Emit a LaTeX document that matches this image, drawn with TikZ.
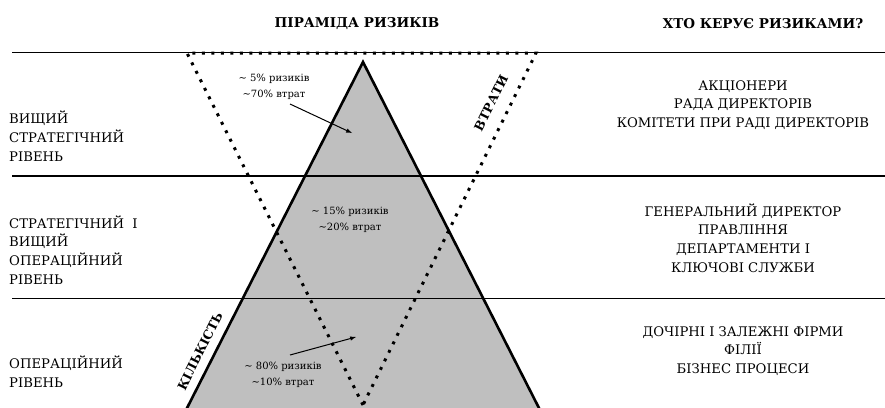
\documentclass[tikz,border=0pt]{standalone}
\usepackage{fontspec}
\setmainfont{DejaVu Serif}
\usepackage{tikz}
\usetikzlibrary{arrows,positioning,calc}

\begin{document}
\begin{tikzpicture}[x=1pt,y=-1pt,
  every node/.style={inner sep=1pt},
  headtext/.style={font=\bfseries\fontsize{13.5}{15}\selectfont},
  lvltext/.style={anchor=west, align=left, font=\fontsize{13.2}{18.8}\selectfont},
  whotext/.style={align=center, font=\fontsize{13.2}{18.8}\selectfont},
  pcttext/.style={align=center, font=\fontsize{10}{16}\selectfont},
  sidetext/.style={font=\bfseries\fontsize{12.5}{14}\selectfont, rotate=63.5},
  bigdots/.style={line width=3pt, dash pattern=on 3pt off 6.5pt}]
\useasboundingbox (0,0) rectangle (885,407);

% Pyramid
\coordinate (apex) at (363,62);
\coordinate (baseL) at (185,412);
\coordinate (baseR) at (541,412);
\draw[line width=2.6pt, fill=black!25, line join=miter] (baseL) -- (apex) -- (baseR);

% Level lines
\draw[line width=0.9pt] (12,52) -- (885,52);
\draw[line width=1.6pt] (12,176) -- (885,176);
\draw[line width=0.9pt] (12,298) -- (885,298);

% Losses triangle (upside down)
\coordinate (lossL) at (187,53);
\coordinate (lossR) at (536,53);
\coordinate (lossB) at (363,405);
\draw[bigdots] (lossB) -- (lossL) -- (lossR) -- (lossB);

% Headings
\node[headtext] (pyrhead) at (357,24) {ПІРАМІДА РИЗИКІВ};
\node[headtext] (whohead) at (763,24) {ХТО КЕРУЄ РИЗИКАМИ?};

% Levels
\node[lvltext] (lvl1) at (8,136) {ВИЩИЙ\\СТРАТЕГІЧНИЙ\\РІВЕНЬ};
\node[lvltext] (lvl2) at (8,250) {СТРАТЕГІЧНИЙ \ І\\ВИЩИЙ\\ОПЕРАЦІЙНИЙ\\РІВЕНЬ};
\node[lvltext] (lvl3) at (8,372) {ОПЕРАЦІЙНИЙ\\РІВЕНЬ};

% Who manages
\node[whotext] (who1) at (743,105) {АКЦІОНЕРИ\\РАДА ДИРЕКТОРІВ\\КОМІТЕТИ ПРИ РАДІ ДИРЕКТОРІВ};
\node[whotext] (who2) at (743,238) {ГЕНЕРАЛЬНИЙ ДИРЕКТОР\\ПРАВЛІННЯ\\ДЕПАРТАМЕНТИ І\\КЛЮЧОВІ СЛУЖБИ};
\node[whotext] (who3) at (743,351) {ДОЧІРНІ І ЗАЛЕЖНІ ФІРМИ\\ФІЛІЇ\\БІЗНЕС ПРОЦЕСИ};

% Shares
\node[pcttext] (pct1) at (274,87) {\textasciitilde\ 5\% ризиків\\\textasciitilde70\% втрат};
\node[pcttext] (pct2) at (350,220) {\textasciitilde\ 15\% ризиків\\\textasciitilde20\% втрат};
\node[pcttext] (pct3) at (283,375) {\textasciitilde\ 80\% ризиків\\\textasciitilde10\% втрат};
\coordinate (tip1) at (352,133);
\coordinate (tip3) at (356,337);
\draw[-latex, line width=1pt] (290,104) -- (tip1);
\draw[-latex, line width=1pt] (290,355) -- (tip3);

% Side labels
\node[sidetext] (losses) at (491,103) {ВТРАТИ};
\node[sidetext] (amount) at (200,351) {КІЛЬКІСТЬ};
\end{tikzpicture}
\end{document}
